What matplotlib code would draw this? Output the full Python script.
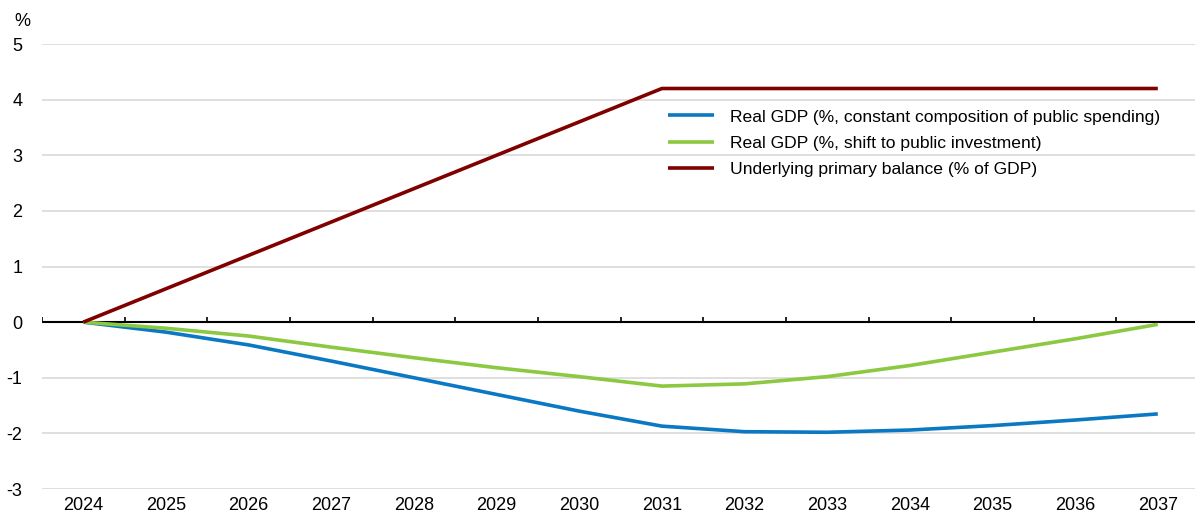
import numpy as np
import matplotlib.pyplot as plt

plt.rcParams['font.family'] = ['Liberation Sans', 'DejaVu Sans']

years = [str(y) for y in range(2024, 2038)]
gdp_constant = [0.0, -0.18, -0.41, -0.70, -1.00, -1.30, -1.60, -1.87, -1.97, -1.98, -1.94, -1.86, -1.76, -1.65]
gdp_invest = [0.0, -0.11, -0.25, -0.45, -0.64, -0.82, -0.98, -1.15, -1.11, -0.98, -0.78, -0.54, -0.30, -0.04]
primary_bal = [0.0, 0.6, 1.2, 1.8, 2.4, 3.0, 3.6, 4.2, 4.2, 4.2, 4.2, 4.2, 4.2, 4.2]

labels = ['Real GDP (%, constant composition of public spending)',
          'Real GDP (%, shift to public investment)',
          'Underlying primary balance (% of GDP)']
colors = ['#0a78c2', '#8cc841', '#800000']

fig = plt.figure(figsize=(11.95, 5.15), dpi=100)
ax = fig.add_axes([42 / 1195, 1 - 489 / 515, 1 - 42 / 1195, (489 - 44) / 515])

x = np.arange(len(years))
for vals, lab, c in zip([gdp_constant, gdp_invest, primary_bal], labels, colors):
    ax.plot(x, vals, color=c, lw=2.6, label=lab, solid_capstyle='butt', zorder=3)

ax.set_xlim(-0.5, len(years) - 0.55)
ax.set_ylim(-3, 5)
ax.set_yticks(range(-3, 6))
ax.set_yticklabels([str(v) for v in range(-3, 6)])
for v in range(-3, 6):
    if v != 0:
        ax.axhline(v, color='#d9d9d9', lw=1.2, zorder=1)
ax.axhline(0, color='black', lw=1.5, zorder=2)
# category boundary ticks on the zero line
for b in np.arange(-0.5, len(years) - 0.5, 1.0):
    ax.plot([b, b], [0, 0.1], color='black', lw=1.2, zorder=2, solid_capstyle='butt')

ax.set_xticks(x)
ax.set_xticklabels(years)
ax.tick_params(axis='both', length=0, labelsize=13)
ax.tick_params(axis='x', pad=6)
ax.tick_params(axis='y', pad=14)
for s in ax.spines.values():
    s.set_visible(False)

fig.text(14 / 1195, 1 - 22 / 515, '%', fontsize=13, va='center')

ax.legend(loc='upper left', bbox_to_anchor=(0.537, 0.869), frameon=False, fontsize=12.6,
          handlelength=2.6, handletextpad=0.95, labelspacing=0.62, borderaxespad=0)

fig.savefig('out.png', dpi=100)
